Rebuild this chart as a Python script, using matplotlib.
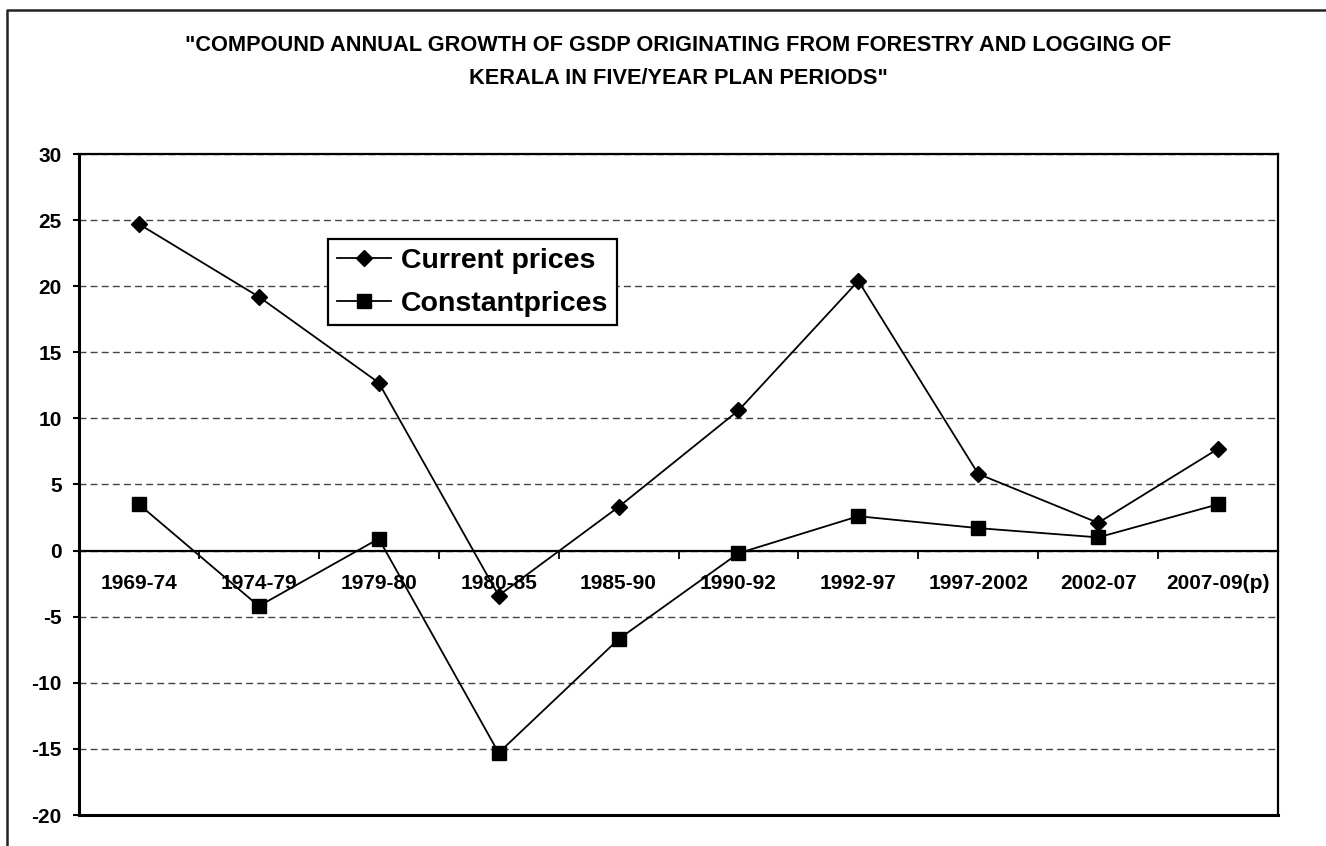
import numpy as np
import matplotlib
matplotlib.use("Agg")
import matplotlib.pyplot as plt
from matplotlib.lines import Line2D

plt.rcParams['font.family'] = ['Liberation Sans', 'DejaVu Sans']
plt.rcParams['axes.unicode_minus'] = False

# plan periods and growth rates (%)
periods = ["1969-74", "1974-79", "1979-80", "1980-85", "1985-90",
           "1990-92", "1992-97", "1997-2002", "2002-07", "2007-09(p)"]
current_prices = [24.7, 19.2, 12.7, -3.4, 3.3, 10.6, 20.4, 5.8, 2.1, 7.7]
constant_prices = [3.5, -4.2, 0.9, -15.3, -6.7, -0.2, 2.6, 1.7, 1.0, 3.5]
y_ticks = [-20, -15, -10, -5, 0, 5, 10, 15, 20, 25, 30]

W, H = 1326, 846
fig = plt.figure(figsize=(W / 100, H / 100), dpi=100)

# plot area in pixels: x 79..1278, y 154..815
ax = fig.add_axes([79 / W, (H - 815) / H, (1278 - 79) / W, (815 - 154) / H])

x = np.arange(len(periods))
ax.plot(x, current_prices, color='black', lw=1.3, marker='D', markersize=8,
        label="Current prices", zorder=4)
ax.plot(x, constant_prices, color='black', lw=1.3, marker='s', markersize=9.4,
        label="Constantprices", zorder=4)

ax.set_xlim(-0.5, len(periods) - 0.5)
ax.set_ylim(-20, 30)

# dashed horizontal grid
ax.set_yticks(y_ticks)
ax.yaxis.grid(True, color='#444444', lw=1.0, linestyle=(0, (5, 3)))
ax.set_axisbelow(True)

# x axis crosses at zero, Excel style
ax.spines['bottom'].set_position(('data', 0))
ax.spines['bottom'].set_linewidth(1.6)
for s in ['left', 'right', 'top']:
    ax.spines[s].set_linewidth(1.6)
ax.axhline(-20, color='black', lw=2.2, zorder=3, clip_on=False)
ax.spines['left'].set_linewidth(2.2)

ax.set_xticks(x)
ax.set_xticklabels(periods, fontsize=15, fontweight='bold')
ax.set_xticks(np.arange(len(periods) + 1) - 0.5, minor=True)
ax.tick_params(axis='x', which='major', length=0, pad=17)
ax.tick_params(axis='x', which='minor', direction='out', length=6, width=1.3)
ax.tick_params(axis='y', direction='out', length=4, width=1.5, pad=8.5, labelsize=15)
for lab in ax.get_yticklabels():
    lab.set_fontweight('bold')

leg = ax.legend(loc='upper left', bbox_to_anchor=(328 / W, 1 - 239 / H),
                bbox_transform=fig.transFigure, borderaxespad=0,
                prop={'weight': 'bold', 'size': 20.5}, frameon=True, fancybox=False,
                edgecolor='black', framealpha=1, handlelength=1.9, handletextpad=0.35,
                labelspacing=0.6, borderpad=0.3)
leg.get_frame().set_linewidth(1.6)

fig.text(678 / W, 1 - 62 / H,
         '"COMPOUND ANNUAL GROWTH OF GSDP ORIGINATING FROM FORESTRY AND LOGGING OF\n'
         'KERALA IN FIVE/YEAR PLAN PERIODS"',
         ha='center', va='center', multialignment='center', fontsize=15.7,
         fontweight='bold', linespacing=1.75)

# outer chart border (top and left visible)
fig.add_artist(Line2D([7 / W, 7 / W, 1.0], [0.0, 1 - 10 / H, 1 - 10 / H],
                      transform=fig.transFigure, color='#222222', lw=1.8))

fig.savefig("out.png", dpi=100)
